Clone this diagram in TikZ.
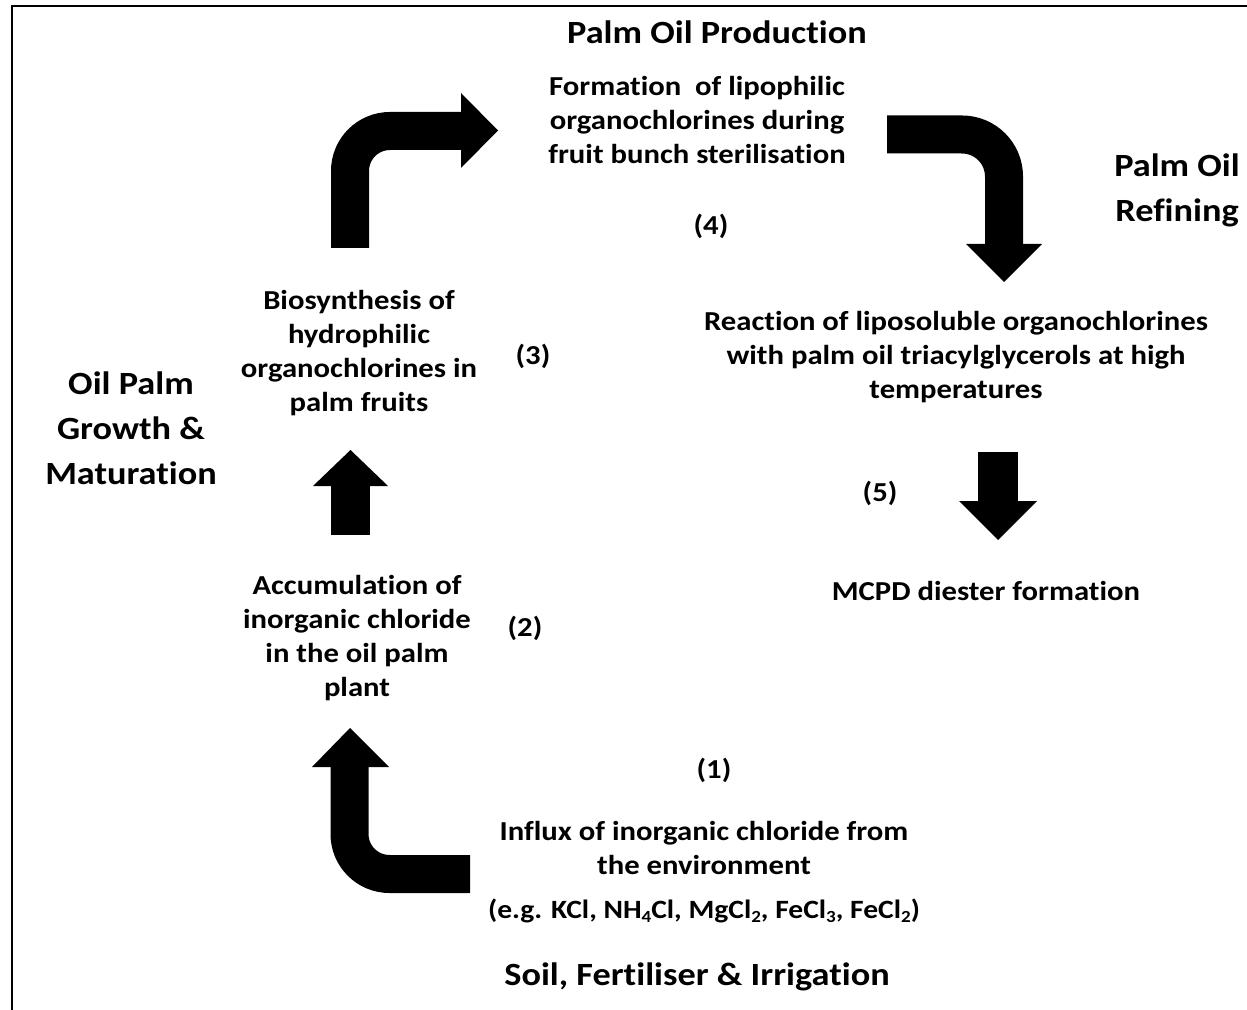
\documentclass[tikz,border=0pt]{standalone}
\usepackage{fontspec}
\setmainfont{Carlito}[FakeStretch=1.12, Ligatures=NoCommon]
\newcommand{\mysub}[1]{\raisebox{-0.35ex}{\fontsize{8.5}{9}\selectfont #1}}
\tikzset{
  txt/.style={align=center, inner sep=0pt, font=\bfseries\fontsize{13.7}{17}\selectfont},
  head/.style={align=center, inner sep=0pt, font=\bfseries\fontsize{16.2}{22.5}\selectfont},
  shaft/.style={line width=19pt, black},
  tipfill/.style={fill=black},
  frame/.style={line width=1.3pt, black}
}
\begin{document}
\begin{tikzpicture}[x=0.5pt, y=-0.5pt]
\useasboundingbox (0,0) rectangle (1247,1010);
% frame
\draw[frame] (12,1010) -- (12,6) -- (1247,6);

% texts
\node[head] (prod) at (717,32) {Palm Oil Production};
\node[txt] (form) at (697,120) {Formation\ \ of lipophilic\\organochlorines during\\fruit bunch sterilisation};
\node[txt] (n4) at (711,226) {(4)};
\node[head] (refin) at (1177,190) {Palm Oil\\Refining};
\node[txt] (react) at (956,357) {Reaction of liposoluble organochlorines\\with palm oil triacylglycerols at high\\temperatures};
\node[txt] (n5) at (880,493) {(5)};
\node[txt] (mcpd) at (986,591) {MCPD diester formation};
\node[txt] (bio) at (359,353) {Biosynthesis of\\hydrophilic\\organochlorines in\\palm fruits};
\node[txt] (n3) at (533,356) {(3)};
\node[head] (grow) at (131,428) {Oil Palm\\Growth \&\\Maturation};
\node[txt] (accu) at (357,638) {Accumulation of\\inorganic chloride\\in the oil palm\\plant};
\node[txt] (n2) at (525,628) {(2)};
\node[txt] (n1) at (714,770) {(1)};
\node[txt] (influx) at (704,848) {Influx of inorganic chloride from\\the environment};
\node[txt, font=\bfseries\fontsize{13.2}{17}\selectfont] (eg) at (704,911) {(e.g. KCl, NH\mysub{4}Cl, MgCl\mysub{2}, FeCl\mysub{3}, FeCl\mysub{2})};
\node[head] (soil) at (697,977) {Soil, Fertiliser \& Irrigation};

% arrow A: up then right
\coordinate (a0) at (350,248);
\coordinate (a1) at (350,131);
\coordinate (a2) at (462,131);
\draw[shaft, rounded corners=20pt] (a0) -- (a1) -- (a2);
\fill[tipfill] (461,93) -- (498,130.5) -- (461,168) -- cycle;

% arrow B: right then down
\coordinate (b0) at (887,134.5);
\coordinate (b1) at (1004,134.5);
\coordinate (b2) at (1004,245);
\draw[shaft, rounded corners=21pt] (b0) -- (b1) -- (b2);
\fill[tipfill] (966,244) -- (1042,244) -- (1004,282) -- cycle;

% arrow C: left then up
\coordinate (c0) at (470,874);
\coordinate (c1) at (349.5,874);
\coordinate (c2) at (349.5,766);
\draw[shaft, rounded corners=20pt] (c0) -- (c1) -- (c2);
\fill[tipfill] (312,767) -- (389,767) -- (350,728) -- cycle;

% straight up arrow (2 -> 3)
\coordinate (u0) at (350.5,535);
\coordinate (u1) at (350.5,485);
\draw[line width=19.5pt] (u0) -- (u1);
\fill[tipfill] (313,486) -- (388,486) -- (350.5,450) -- cycle;

% straight down arrow (5)
\coordinate (d0) at (998,452);
\coordinate (d1) at (998,502);
\draw[line width=20pt] (d0) -- (d1);
\fill[tipfill] (959,501) -- (1037,501) -- (998,540) -- cycle;
\end{tikzpicture}
\end{document}
